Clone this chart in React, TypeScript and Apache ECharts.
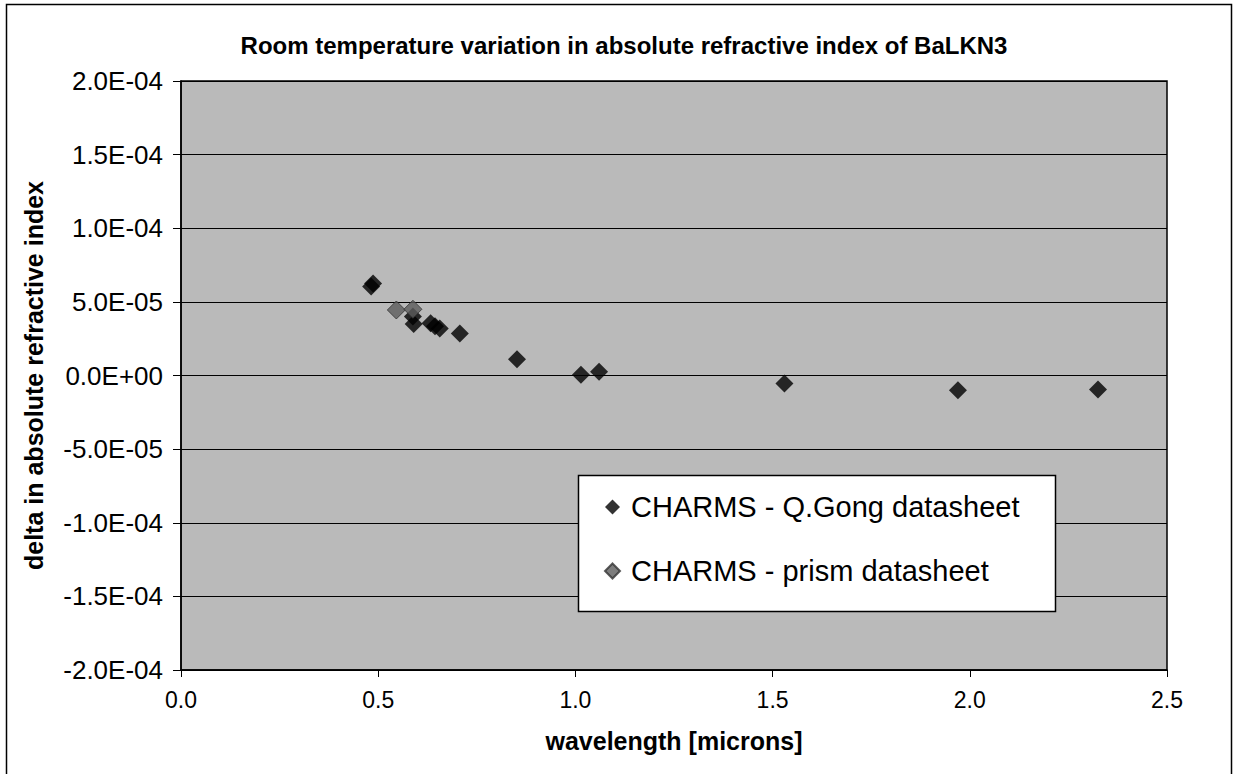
import React, { useEffect, useRef } from "react";
import * as echarts from "echarts";

const titleText = "Room temperature variation in absolute refractive index of BaLKN3";
const xAxisName = "wavelength [microns]";
const yAxisName = "delta in absolute refractive index";
const seriesNames = ["CHARMS - Q.Gong datasheet", "CHARMS - prism datasheet"];

// [wavelength (microns), delta index]
const gongData: [number, number][] = [
  [0.482, 6.05e-5],
  [0.487, 6.25e-5],
  [0.588, 4.0e-5],
  [0.59, 3.5e-5],
  [0.633, 3.55e-5],
  [0.644, 3.35e-5],
  [0.656, 3.2e-5],
  [0.707, 2.85e-5],
  [0.852, 1.1e-5],
  [1.014, 0.05e-5],
  [1.06, 0.25e-5],
  [1.53, -0.55e-5],
  [1.97, -1.0e-5],
  [2.325, -0.95e-5],
];
const prismData: [number, number][] = [
  [0.546, 4.45e-5],
  [0.588, 4.5e-5],
];

const xMin = 0;
const xMax = 2.5;
const xStep = 0.5;
const yMin = -2e-4;
const yMax = 2e-4;
const yStep = 5e-5;

const FONT = "'Liberation Sans', Arial, Helvetica, sans-serif";

function fmtExp(v: number): string {
  if (Math.abs(v) < 1e-12) return "0.0E+00";
  const s = v.toExponential(1);
  const [m, e] = s.split("e");
  const sign = e[0] === "-" ? "-" : "+";
  const digits = e.replace(/[+-]/, "").padStart(2, "0");
  return `${m}E${sign}${digits}`;
}

export default function App() {
  const ref = useRef<HTMLDivElement>(null);
  useEffect(() => {
    if (!ref.current) return;
    const chart = echarts.init(ref.current, undefined, { renderer: "svg" });
    chart.setOption({
      animation: false,
      backgroundColor: "#ffffff",
      title: {
        text: titleText,
        left: 619,
        top: 28,
        textAlign: "center",
        textStyle: { fontFamily: FONT, fontSize: 24, fontWeight: "bold", color: "#000" },
      },
      graphic: [
        {
          type: "rect",
          shape: { x: 6.5, y: 4.5, width: 1225, height: 780 },
          style: { fill: "none", stroke: "#000", lineWidth: 1.5 },
          z: 0,
        },
        {
          type: "rect",
          shape: { x: 578.5, y: 475.5, width: 477, height: 136 },
          style: { fill: "#ffffff", stroke: "#000", lineWidth: 1.5 },
          z: 50,
        },
      ],
      legend: {
        orient: "vertical",
        left: 604,
        top: 492,
        itemGap: 34,
        itemWidth: 15,
        itemHeight: 15,
        icon: "diamond",
        padding: 0,
        z: 60,
        textStyle: {
          fontFamily: FONT,
          fontSize: 29,
          lineHeight: 30,
          color: "#000",
          padding: [0, 0, 0, 6],
        },
        data: seriesNames,
      },
      grid: {
        left: 181,
        right: 66,
        top: 81,
        bottom: 104,
        show: true,
        backgroundColor: "#bababa",
        borderColor: "#000",
        borderWidth: 1.5,
      },
      xAxis: {
        type: "value",
        min: xMin,
        max: xMax,
        interval: xStep,
        name: xAxisName,
        nameLocation: "middle",
        nameGap: 58,
        nameTextStyle: { fontFamily: FONT, fontSize: 25, fontWeight: "bold", color: "#000" },
        axisLine: { show: true, onZero: false, lineStyle: { color: "#000", width: 1.5 } },
        axisTick: { show: true, inside: false, length: 7, lineStyle: { color: "#000" } },
        axisLabel: {
          margin: 18,
          fontFamily: FONT,
          fontSize: 23,
          color: "#000",
          formatter: (v: number) => v.toFixed(1),
        },
        splitLine: { show: false },
      },
      yAxis: {
        type: "value",
        min: yMin,
        max: yMax,
        interval: yStep,
        name: yAxisName,
        nameLocation: "middle",
        nameRotate: 90,
        nameGap: 135,
        nameTextStyle: { fontFamily: FONT, fontSize: 25, fontWeight: "bold", color: "#000" },
        axisLine: { show: true, lineStyle: { color: "#000", width: 1.5 } },
        axisTick: { show: true, inside: false, length: 8, lineStyle: { color: "#000" } },
        axisLabel: {
          margin: 18,
          fontFamily: FONT,
          fontSize: 26,
          color: "#000",
          formatter: (v: number) => fmtExp(v),
        },
        splitLine: { show: true, lineStyle: { color: "#000", width: 1 } },
      },
      series: [
        {
          name: seriesNames[0],
          type: "scatter",
          symbol: "diamond",
          symbolSize: 18,
          itemStyle: { color: "#000000" },
          data: gongData,
          z: 3,
        },
        {
          name: seriesNames[1],
          type: "scatter",
          symbol: "diamond",
          symbolSize: 18,
          itemStyle: { color: "#5c5c5c", borderColor: "#333", borderWidth: 1 },
          data: prismData,
          z: 4,
        },
      ],
    });
    return () => chart.dispose();
  }, []);
  return (
    <div
      ref={ref}
      style={{ position: "absolute", left: 0, top: 0, width: 1233, height: 774 }}
    />
  );
}
